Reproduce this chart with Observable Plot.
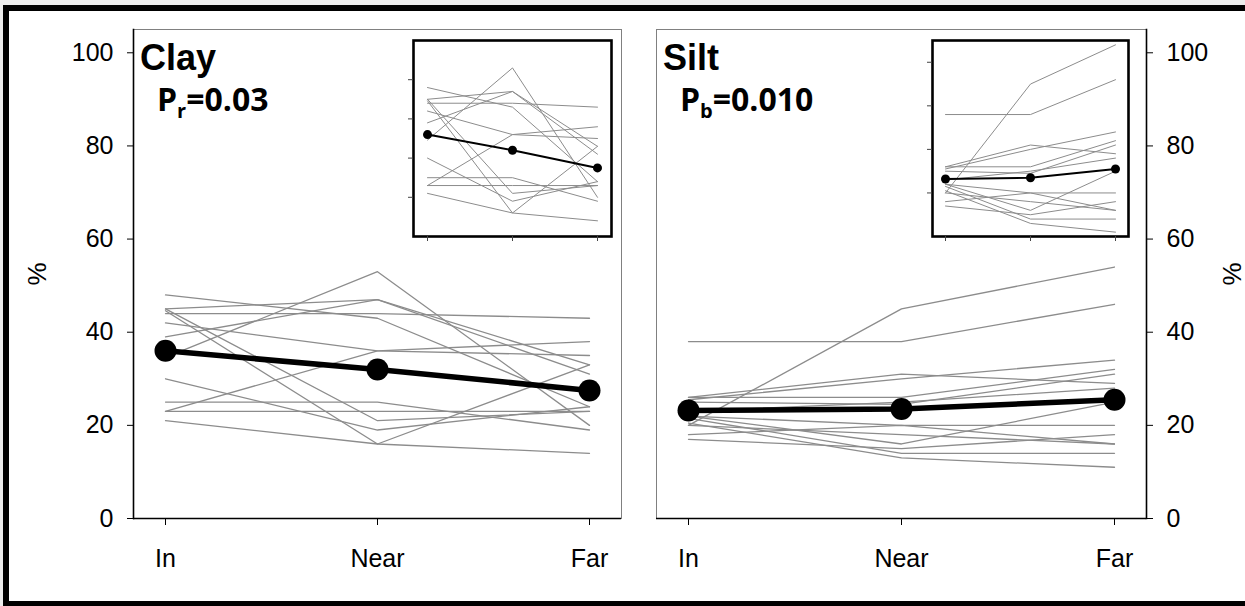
<!DOCTYPE html>
<html>
<head>
<meta charset="utf-8">
<script src="https://cdn.jsdelivr.net/npm/d3@7"></script>
<script src="https://cdn.jsdelivr.net/npm/@observablehq/plot@0.6"></script>
<style>
  html, body { margin: 0; padding: 0; background: #ececec; width: 1245px; height: 606px; overflow: hidden; position: relative; }
  #sheet { position: absolute; left: 3px; top: 5px; width: 1300px; height: 602px; border: 6px solid #000; box-sizing: border-box; background: #fff; }
  svg.panel { position: absolute; }
</style>
</head>
<body>
<div id="sheet"></div>
<script>
// Sampling positions along each transect
const positions = ["In", "Near", "Far"];

// Clay content (%) per site at each position
const clayIn   = [48, 44, 45, 44.6, 42, 39, 34.6, 23, 30, 25, 23, 21, 45];
const clayNear = [43, 44, 21, 16, 36, 47, 53, 36, 19, 25, 23, 16, 47];
const clayFar  = [24, 43, 23, 33, 35, 33, 20, 38, 24, 19, 23, 14, 31];
const clayMean = [36, 32, 27.5];

// Silt content (%) per site at each position
const siltIn   = [38, 20, 26, 25.5, 26, 25, 22, 22, 18, 17, 21.5, 20.5, 23, 20];
const siltNear = [38, 45, 31, 30, 26, 24.5, 16, 20, 20, 15, 14, 13, 25, 18];
const siltFar  = [46, 54, 29, 34, 32, 31, 25, 20, 16, 18, 14, 11, 28, 16];
const siltMean = [23.2, 23.5, 25.5];

// Axis ticks
const mainTicks = [0, 20, 40, 60, 80, 100];
const insetTicks = [20, 30, 40, 50];

const font = "'Liberation Sans', Arial, sans-serif";

function toRows(inV, nearV, farV) {
  const rows = [];
  inV.forEach((_, i) => {
    [inV[i], nearV[i], farV[i]].forEach((v, j) => rows.push({site: i, pos: positions[j], value: v}));
  });
  return rows;
}
const toMean = m => m.map((v, j) => ({pos: positions[j], value: v}));

function mainPanel({rows, mean, side, width, marginLeft, marginRight, labelDx}) {
  return Plot.plot({
    width, height: 606,
    marginTop: 29, marginBottom: 88, marginLeft, marginRight,
    x: {type: "point", domain: positions, padding: 0.147, axis: null},
    y: {domain: [0, 105], axis: null},
    style: {fontFamily: font, fontSize: "25px", color: "#000", background: "transparent", overflow: "visible"},
    marks: [
      Plot.frame({stroke: "#808080", strokeWidth: 1}),
      Plot.line(rows, {x: "pos", y: "value", z: "site", stroke: "#8c8c8c", strokeWidth: 1.3}),
      Plot.line(mean, {x: "pos", y: "value", stroke: "#000", strokeWidth: 5.5}),
      Plot.dot(mean, {x: "pos", y: "value", r: 11, fill: "#000"}),
      Plot.ruleY([0], {stroke: "#000", strokeWidth: 1.6}),
      Plot.frame({anchor: side, stroke: "#000", strokeWidth: 1.6}),
      Plot.axisY(mainTicks, {anchor: side, tickSize: 6, tickPadding: 14, label: null}),
      Plot.axisX(positions, {anchor: "bottom", tickSize: 7, tickPadding: 24, label: null}),
      Plot.text(["%"], {frameAnchor: side, text: d => d, dx: labelDx, rotate: -90,
        textAnchor: "middle", lineAnchor: "middle", fontSize: 26})
    ]
  });
}

function insetPanel({rows, mean, domain, width}) {
  return Plot.plot({
    width, height: 216, margin: 10,
    x: {type: "point", domain: positions, padding: 0.152, axis: null},
    y: {domain, axis: null},
    style: {background: "transparent", overflow: "visible", color: "#444"},
    marks: [
      Plot.frame({fill: "#fff"}),
      Plot.line(rows, {x: "pos", y: "value", z: "site", stroke: "#8c8c8c", strokeWidth: 1}),
      Plot.line(mean, {x: "pos", y: "value", stroke: "#000", strokeWidth: 2}),
      Plot.dot(mean, {x: "pos", y: "value", r: 4.5, fill: "#000"}),
      Plot.frame({stroke: "#000", strokeWidth: 2.6}),
      Plot.axisY(insetTicks, {anchor: "left", tickSize: 5, tickFormat: () => "", label: null}),
      Plot.axisX(positions, {anchor: "bottom", tickSize: 5, tickFormat: () => "", label: null})
    ]
  });
}

function addTitle(svg, {x, name, px, sub, value}) {
  const s = d3.select(svg);
  s.append("text")
    .attr("x", x).attr("y", 70)
    .attr("text-anchor", "start")
    .attr("font-family", font).attr("font-weight", "bold").attr("font-size", 36)
    .attr("fill", "#000")
    .text(name);
  const t = s.append("text")
    .attr("x", px).attr("y", 111)
    .attr("text-anchor", "start")
    .attr("font-family", "'Open Sans', sans-serif").attr("font-weight", "bold").attr("font-size", 32)
    .attr("fill", "#000");
  t.append("tspan").text("P");
  t.append("tspan").attr("font-size", 20).attr("dy", 7).text(sub);
  t.append("tspan").attr("dy", -7).text("=" + value);
}

function place(svg, left, top) {
  svg.classList.add("panel");
  svg.style.left = left + "px";
  svg.style.top = top + "px";
  document.body.appendChild(svg);
  return svg;
}

const clayRows = toRows(clayIn, clayNear, clayFar);
const siltRows = toRows(siltIn, siltNear, siltFar);

// Clay panel (left), y axis on the left
const clay = mainPanel({rows: clayRows, mean: toMean(clayMean), side: "left",
  width: 640, marginLeft: 133, marginRight: 19, labelDx: -96});
addTitle(clay, {x: 140, name: "Clay", px: 157, sub: "r", value: "0.03"});
place(clay, 0, 0);

// Silt panel (right), y axis on the right
const silt = mainPanel({rows: siltRows, mean: toMean(siltMean), side: "right",
  width: 605, marginLeft: 16, marginRight: 99, labelDx: 86});
addTitle(silt, {x: 23, name: "Silt", px: 40, sub: "b", value: "0.010"});
place(silt, 640, 0);

// Zoomed insets
place(insetPanel({rows: clayRows, mean: toMean(clayMean), domain: [10, 60], width: 218}), 403, 30);
place(insetPanel({rows: siltRows, mean: toMean(siltMean), domain: [10, 55], width: 216}), 922, 30);
</script>
</body>
</html>
